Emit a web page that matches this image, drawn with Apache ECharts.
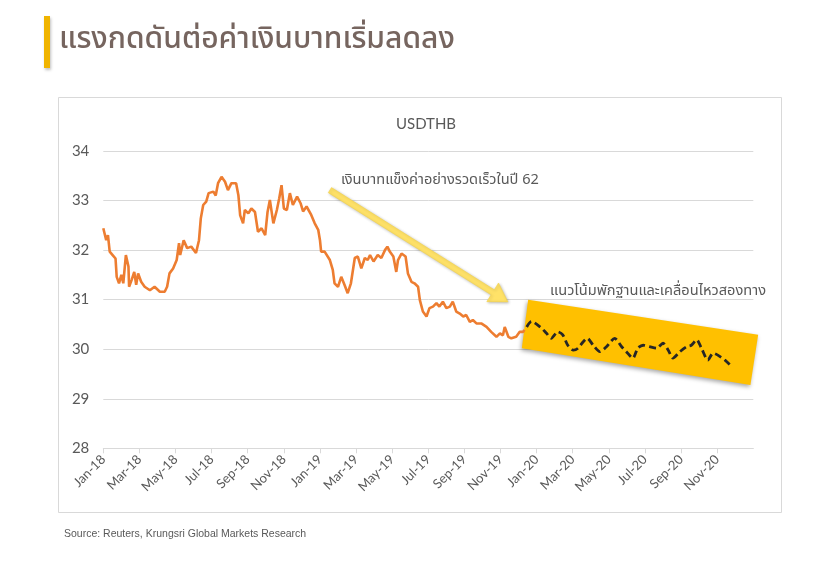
<!DOCTYPE html>
<html>
<head>
<meta charset="utf-8">
<script src="https://cdn.jsdelivr.net/npm/echarts@6/dist/echarts.min.js"></script>
<style>
  html, body { margin: 0; padding: 0; background: #fff; }
  #main { width: 822px; height: 578px; }
</style>
</head>
<body>
<div id="main"></div>
<script>
// ข้อมูล USDTHB (อ่านจากภาพ)
var histDates = [
  '2018-01-01','2018-01-06','2018-01-09','2018-01-12','2018-01-17','2018-01-22','2018-01-24','2018-01-28',
  '2018-02-01','2018-02-04','2018-02-08','2018-02-12','2018-02-13','2018-02-17','2018-02-21','2018-02-24','2018-02-27',
  '2018-03-04','2018-03-10','2018-03-19','2018-03-27','2018-04-05','2018-04-13','2018-04-17','2018-04-21','2018-04-27',
  '2018-05-03','2018-05-07','2018-05-09','2018-05-15','2018-05-21','2018-05-28','2018-06-05','2018-06-10','2018-06-13',
  '2018-06-17','2018-06-22','2018-06-26','2018-07-04','2018-07-08','2018-07-12','2018-07-18','2018-07-24','2018-07-29',
  '2018-08-04','2018-08-12','2018-08-16','2018-08-19','2018-08-24','2018-08-27','2018-09-02','2018-09-07','2018-09-13',
  '2018-09-18','2018-09-24','2018-09-30','2018-10-04','2018-10-08','2018-10-14','2018-10-20','2018-10-24','2018-10-28',
  '2018-11-01','2018-11-06','2018-11-11','2018-11-16','2018-11-23','2018-11-29','2018-12-03','2018-12-09','2018-12-17',
  '2018-12-23','2018-12-29','2019-01-01','2019-01-03','2019-01-09','2019-01-12','2019-01-18','2019-01-23','2019-01-26',
  '2019-02-01','2019-02-06','2019-02-11','2019-02-16','2019-02-21','2019-02-27','2019-03-04','2019-03-10','2019-03-16',
  '2019-03-21','2019-03-25','2019-03-31','2019-04-07','2019-04-13','2019-04-19','2019-04-23','2019-04-27','2019-05-03',
  '2019-05-08','2019-05-11','2019-05-17','2019-05-24','2019-05-28','2019-06-03','2019-06-08','2019-06-14','2019-06-17',
  '2019-06-22','2019-06-28','2019-07-03','2019-07-09','2019-07-15','2019-07-20','2019-07-26','2019-08-01','2019-08-07',
  '2019-08-12','2019-08-18','2019-08-24','2019-08-30','2019-09-04','2019-09-10','2019-09-15','2019-09-21','2019-09-29',
  '2019-10-08','2019-10-16','2019-10-25','2019-10-31','2019-11-05','2019-11-08','2019-11-14','2019-11-19','2019-11-27',
  '2019-12-03','2019-12-09','2019-12-11'
];
var histValues = [
  32.44,32.20,32.30,31.97,31.90,31.83,31.46,31.33,
  31.50,31.33,31.90,31.67,31.26,31.40,31.56,31.30,31.53,
  31.36,31.26,31.19,31.26,31.16,31.16,31.26,31.53,31.63,
  31.80,32.14,31.90,32.20,32.04,32.07,31.94,32.20,32.64,
  32.91,32.98,33.15,33.18,33.10,33.35,33.48,33.38,33.21,
  33.35,33.35,33.10,32.70,32.54,32.81,32.74,32.84,32.77,
  32.37,32.44,32.30,32.77,33.01,32.54,32.81,33.04,33.31,
  32.84,32.81,33.15,32.91,33.08,32.94,32.78,32.88,32.71,
  32.54,32.41,32.20,31.97,31.97,31.93,31.80,31.60,31.33,
  31.26,31.46,31.30,31.13,31.33,31.84,31.87,31.63,31.84,
  31.80,31.90,31.77,31.90,31.84,32.00,32.07,31.97,31.87,
  31.56,31.80,31.93,31.87,31.53,31.36,31.33,31.26,30.99,
  30.76,30.66,30.83,30.86,30.93,30.86,30.96,30.83,30.86,
  30.96,30.76,30.72,30.66,30.69,30.55,30.59,30.52,30.52,
  30.45,30.35,30.25,30.32,30.28,30.45,30.25,30.22,30.25,
  30.35,30.35,30.39
];
// เส้นประ: แนวโน้มปี 2020
var fcDates = [
  '2019-12-15','2019-12-23','2020-01-07','2020-01-18','2020-01-26','2020-02-06','2020-02-14','2020-02-22',
  '2020-03-02','2020-03-10','2020-03-19','2020-03-26','2020-04-05','2020-04-16','2020-04-27','2020-05-11',
  '2020-05-23','2020-05-31','2020-06-11','2020-06-19','2020-06-28','2020-07-09','2020-07-21','2020-08-01',
  '2020-08-10','2020-08-18','2020-08-30','2020-09-10','2020-09-18','2020-09-27','2020-10-05','2020-10-16',
  '2020-10-25','2020-11-02','2020-11-14','2020-11-25'
];
var fcValues = [
  30.45,30.56,30.45,30.32,30.22,30.35,30.29,30.08,
  29.98,30.02,30.15,30.22,30.08,29.95,30.05,30.22,
  30.05,29.95,29.82,30.02,30.08,30.05,30.02,30.12,
  29.98,29.82,29.95,30.05,30.08,30.19,30.02,29.78,
  29.92,29.88,29.78,29.65
];
var tickLabels = ['Jan-18','Mar-18','May-18','Jul-18','Sep-18','Nov-18','Jan-19','Mar-19','May-19',
  'Jul-19','Sep-19','Nov-19','Jan-20','Mar-20','May-20','Jul-20','Sep-20','Nov-20'];

var thaiFont = '"Noto Sans Thai", "Noto Sans Thai UI", Tahoma, Loma, Garuda, sans-serif';
var axisFont = 'Lato, "Noto Sans", sans-serif';

function toMonth(s) {
  var p = s.split('-').map(Number);
  var dim = new Date(p[0], p[1], 0).getDate();
  return (p[0] - 2018) * 12 + (p[1] - 1) + (p[2] - 1) / dim;
}
function pairs(dates, vals) {
  return dates.map(function (d, i) { return [toMonth(d), vals[i]]; });
}

var chart = echarts.init(document.getElementById('main'));
var option = {
  animation: false,
  backgroundColor: '#fff',
  title: {
    text: 'USDTHB',
    left: 421, top: 112, textAlign: 'center',
    textStyle: { fontFamily: axisFont, fontSize: 15, fontWeight: 'normal', color: '#595959' }
  },
  grid: { left: 103.3, right: 68.7, top: 151, bottom: 129.7 },
  xAxis: {
    type: 'value', min: 0, max: 36, interval: 2,
    axisLine: { lineStyle: { color: '#D9D9D9', width: 1 } },
    axisTick: { show: true, length: 5, lineStyle: { color: '#D9D9D9' },
      customValues: tickLabels.map(function (t, i) { return i * 2; }) },
    axisLabel: {
      rotate: 45, margin: 9, color: '#595959', fontFamily: axisFont, fontSize: 13,
      customValues: tickLabels.map(function (t, i) { return i * 2; }),
      formatter: function (v) { return tickLabels[Math.round(v / 2)] || ''; }
    },
    splitLine: { show: false }
  },
  yAxis: {
    type: 'value', min: 28, max: 34, interval: 1,
    axisLine: { show: false }, axisTick: { show: false },
    axisLabel: { color: '#595959', fontFamily: axisFont, fontSize: 15, margin: 14 },
    splitLine: { lineStyle: { color: '#D9D9D9', width: 1 } }
  },
  series: [{
    name: 'USDTHB', type: 'line', showSymbol: false,
    data: pairs(histDates, histValues),
    lineStyle: { color: '#ED7D31', width: 2.6 }, z: 3
  }, {
    name: 'forecast', type: 'line', showSymbol: false, smooth: 0.25,
    data: pairs(fcDates, fcValues),
    lineStyle: { color: '#262626', width: 2.8, type: [7, 4] }, z: 4
  }]
};
chart.setOption(option);

function px(m, v) { return chart.convertToPixel({ gridIndex: 0 }, [m, v]); }

// กรอบสีเหลือง (แนวโน้ม) และลูกศร
var band = [px(23.53, 31.0), px(36.27, 30.29), px(35.84, 29.28), px(23.18, 30.02)];
var tail = px(12.55, 33.21), tip = px(22.41, 30.955);
var dx = tip[0] - tail[0], dy = tip[1] - tail[1], len = Math.sqrt(dx * dx + dy * dy);
var ux = dx / len, uy = dy / len, nx = -uy, ny = ux;
var headLen = 18, headW = 11, shaftW = 3;
var bx = tip[0] - ux * headLen, by = tip[1] - uy * headLen;
var arrow = [
  [tail[0] + nx * shaftW, tail[1] + ny * shaftW],
  [bx + nx * shaftW, by + ny * shaftW],
  [bx + nx * headW, by + ny * headW],
  tip,
  [bx - nx * headW, by - ny * headW],
  [bx - nx * shaftW, by - ny * shaftW],
  [tail[0] - nx * shaftW, tail[1] - ny * shaftW]
];

chart.setOption({
  graphic: [
    { type: 'rect', shape: { x: 44, y: 16, width: 6, height: 52 },
      style: { fill: '#F0B400', shadowBlur: 3, shadowColor: 'rgba(0,0,0,0.25)', shadowOffsetX: 1, shadowOffsetY: 2 } },
    { type: 'text', x: 59, y: 42,
      style: { text: 'แรงกดดันต่อค่าเงินบาทเริ่มลดลง', fill: '#76655F', font: '500 30px ' + thaiFont, textVerticalAlign: 'middle' } },
    { type: 'rect', z: -1, shape: { x: 58.5, y: 97.5, width: 723, height: 415 },
      style: { fill: 'none', stroke: '#D9D9D9', lineWidth: 1 } },
    { type: 'polygon', z: 1, shape: { points: band },
      style: { fill: '#FFC000', shadowBlur: 4, shadowColor: 'rgba(0,0,0,0.35)', shadowOffsetX: -1, shadowOffsetY: 2 } },
    { type: 'polygon', z: 5, shape: { points: arrow },
      style: { fill: '#FFE268', stroke: '#F5D44A', lineWidth: 0.6, shadowBlur: 3, shadowColor: 'rgba(0,0,0,0.25)', shadowOffsetX: 1, shadowOffsetY: 1 } },
    { type: 'text', z: 6, x: 341, y: 181,
      style: { text: 'เงินบาทแข็งค่าอย่างรวดเร็วในปี 62', fill: '#595959', font: '14.6px ' + thaiFont, textVerticalAlign: 'middle' } },
    { type: 'text', z: 6, x: 550, y: 292,
      style: { text: 'แนวโน้มพักฐานและเคลื่อนไหวสองทาง', fill: '#595959', font: '14.6px ' + thaiFont, textVerticalAlign: 'middle' } },
    { type: 'text', x: 64, y: 534,
      style: { text: 'Source: Reuters, Krungsri Global Markets Research', fill: '#595959', font: '10.5px "Liberation Sans", Arial, sans-serif', textVerticalAlign: 'middle' } }
  ]
});
</script>
</body>
</html>
